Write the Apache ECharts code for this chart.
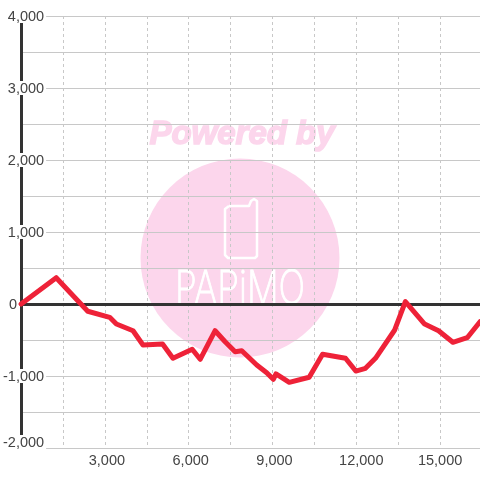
<!DOCTYPE html>
<html><head><meta charset="utf-8">
<style>html,body{margin:0;padding:0;background:#fff}#c{width:480px;height:480px}</style>
<script src="https://cdn.jsdelivr.net/npm/echarts@6/dist/echarts.min.js"></script>
</head><body><div id="c"></div>
<script>
const games = [0,1257,1946,2386,3171,3411,4007,4364,5064,5436,6125,6411,6946,7304,7661,7900,8436,8793,9029,9125,9600,10314,10793,11614,11982,12329,12686,13375,13757,14446,14946,15457,15971,16429];
const balance = [0,365,79,-101,-185,-278,-371,-569,-556,-754,-629,-768,-371,-524,-663,-649,-847,-954,-1046,-972,-1088,-1018,-699,-754,-931,-893,-754,-361,32,-278,-371,-532,-468,-246];
const watermarkTitle = 'Powered by';
const watermarkBrand = 'PAPiMO';
const fmt = v => Math.abs(v).toLocaleString('en-US');
const labelFont = {fontFamily:'"Liberation Sans",Arial,sans-serif',fontSize:14.5,color:'#444'};
const chart = echarts.init(document.getElementById('c'),null,{renderer:'canvas'});
chart.setOption({
  animation:false,
  backgroundColor:'#fff',
  grid:{left:20,right:0,top:16,bottom:32,containLabel:false},
  graphic:{elements:[
    {type:'circle',z:-10,silent:true,shape:{cx:240,cy:258,r:99.5},style:{fill:'#fcd6ec'}},
    {type:'text',z:-9,silent:true,x:242,y:135,style:{text:watermarkTitle,align:'center',verticalAlign:'middle',fill:'#fcd6ec',stroke:'#fcd6ec',lineWidth:1.5,font:'italic bold 33px "Liberation Sans",Arial,sans-serif'}},
    {type:'polyline',z:-9,silent:true,shape:{points:[[229,206],[249,206],[251,201],[254,199],[257,201],[257,256],[255,258],[228,258],[225,255],[225,209],[229,206]]},style:{fill:'none',stroke:'#fff',lineWidth:2.5,lineJoin:'round'}},
    {type:'text',z:-9,silent:true,x:240,y:290,scaleX:0.75,style:{text:watermarkBrand,align:'center',verticalAlign:'middle',fill:'#fff',stroke:'#fff',lineWidth:1,font:'200 47px "Inter","Noto Sans",sans-serif'}}
  ]},
  xAxis:[{
    type:'value',min:0,max:16429,interval:1500,position:'bottom',
    axisLine:{show:false,onZero:false},axisTick:{show:false},
    splitLine:{show:true,lineStyle:{color:'#c8c8c8',width:1,type:[3,3]}},
    axisLabel:{show:true,margin:5,showMaxLabel:false,showMinLabel:false,hideOverlap:false,
      formatter:v=>{
        if(v===0||v%3000!==0) return '';
        if(v===12000) return '{b|'+fmt(v)+'}';
        if(v===15000) return '{n|'+fmt(v)+'}';
        return '{s|'+fmt(v)+'}';
      },
      rich:{
        s:Object.assign({padding:[0,0,0,4]},labelFont),
        b:Object.assign({padding:[0,0,0,10]},labelFont),
        n:Object.assign({},labelFont)
      },...labelFont}
  },{
    type:'value',min:0,max:16429,interval:1500,position:'bottom',
    axisLine:{show:true,onZero:true,lineStyle:{color:'#333',width:3}},
    axisTick:{show:false},splitLine:{show:false},axisLabel:{show:false}
  }],
  yAxis:{
    type:'value',min:-2000,max:4000,interval:500,position:'left',
    axisLine:{show:true,onZero:false,lineStyle:{color:'#333',width:3}},
    axisTick:{show:false},
    splitLine:{show:true,lineStyle:{color:'#c8c8c8',width:1,type:'solid'}},
    axisLabel:{show:true,inside:true,margin:25,align:'right',showMinLabel:true,showMaxLabel:true,hideOverlap:false,
      formatter:v=>{
        if(v%1000!==0) return '';
        if(v===0) return '{z|0}';
        const t=(v<0?'-':'')+fmt(v);
        if(v===-2000) return '{m|'+t+'}';
        return '{a|'+t+'}';
      },
      rich:{
        a:Object.assign({backgroundColor:'#fff',padding:[2,2,0,0],height:12,lineHeight:12},labelFont),
        m:Object.assign({backgroundColor:'#fff',padding:[1,2,12,0],height:13,lineHeight:13},labelFont),
        z:Object.assign({padding:[2,29,0,0],height:12,lineHeight:12},labelFont)
      },...labelFont}
  },
  series:[{
    type:'line',xAxisIndex:0,yAxisIndex:0,data:games.map((g,i)=>[g,balance[i]]),
    showSymbol:false,smooth:false,clip:false,z:5,
    lineStyle:{color:'#ee2238',width:5,join:'round',cap:'round'}
  }]
});
</script></body></html>
